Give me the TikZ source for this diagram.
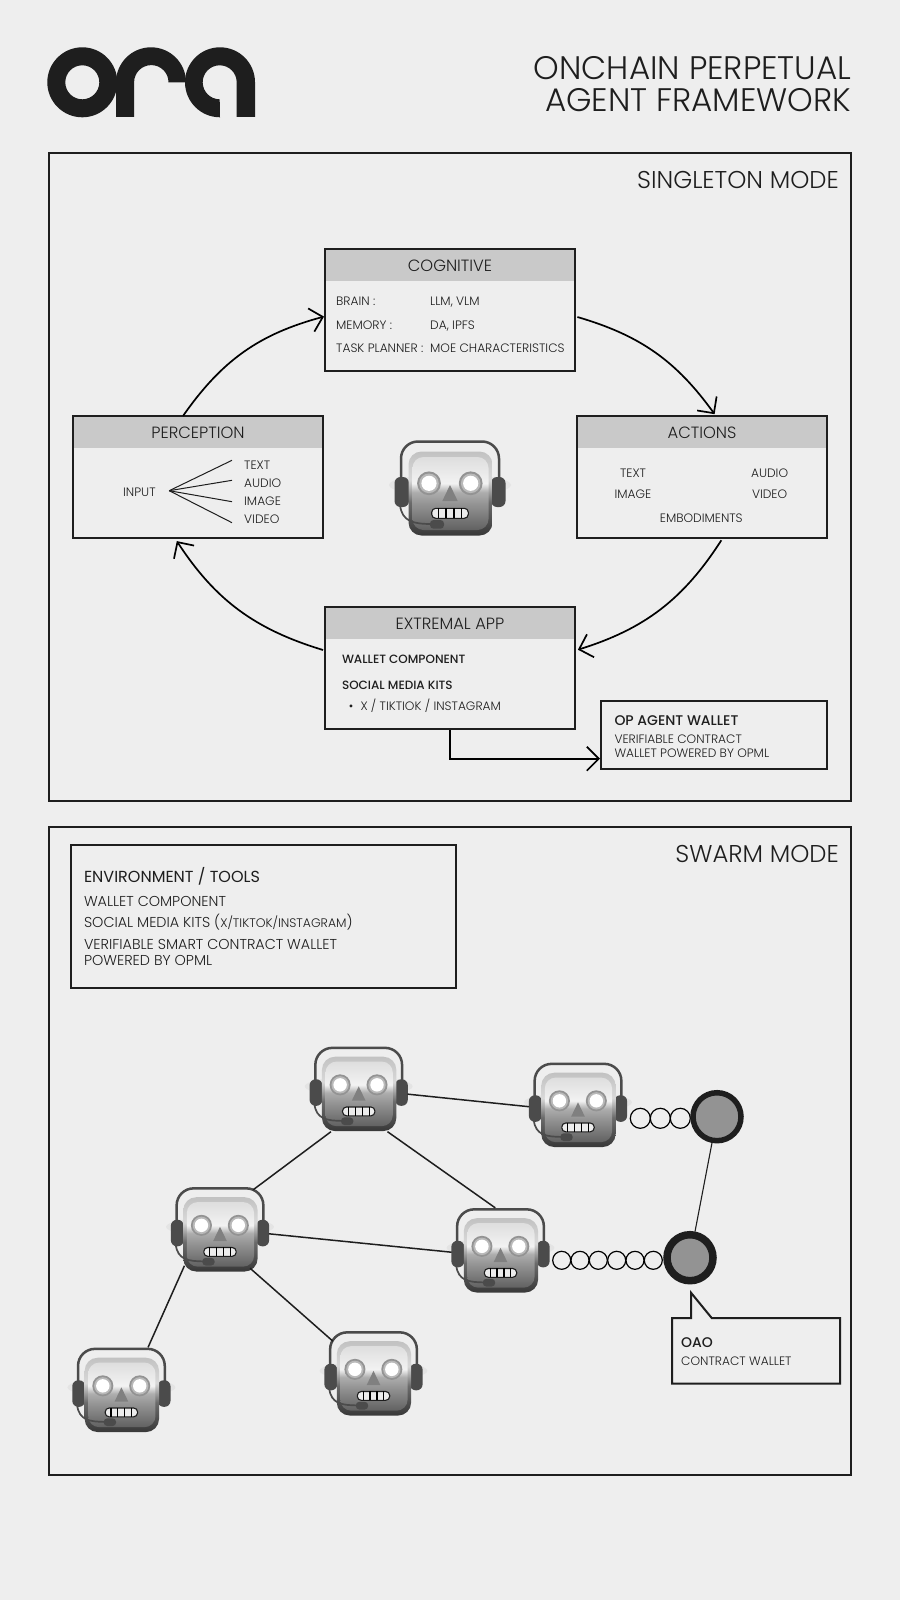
\documentclass[tikz,border=0pt]{standalone}
\usepackage{fontspec}
\setmainfont{Poppins}[UprightFont=* Light,BoldFont=* Medium]
\newfontfamily\popregular{Poppins}
\usetikzlibrary{arrows.meta}
\usetikzlibrary{calc}
\definecolor{paperbg}{HTML}{EEEEEE}
\definecolor{inkdark}{HTML}{1E1E1E}
\definecolor{headgray}{HTML}{C9C9C9}
\definecolor{oaogray}{HTML}{939393}
\definecolor{robotdark}{HTML}{4B4B4B}
\pgfdeclareverticalshading{robotface}{100bp}{rgb(0bp)=(.38,.38,.38); rgb(25bp)=(.38,.38,.38); rgb(43bp)=(.58,.58,.58); rgb(51bp)=(.68,.68,.68); rgb(57bp)=(.95,.95,.95); rgb(75bp)=(.87,.87,.87); rgb(100bp)=(.87,.87,.87)}
\pgfdeclareverticalshading{robotrim}{100bp}{rgb(0bp)=(.22,.22,.22); rgb(25bp)=(.22,.22,.22); rgb(45bp)=(.42,.42,.42); rgb(58bp)=(.85,.85,.85); rgb(75bp)=(.76,.76,.76); rgb(100bp)=(.76,.76,.76)}
\tikzset{
  frame box/.style={draw=inkdark,line width=2pt,inner sep=0pt},
  panel/.style={
    frame box,
    minimum width=250pt,
    minimum height=122pt,
  },
  panel head/.style={
    fill=headgray,
    inner sep=0pt,
    minimum width=248pt,
    minimum height=31pt,
    anchor=north,
    text=inkdark,
    text height=12.5pt,
    text depth=0pt,
    font=\fontsize{16.3}{16}\selectfont,
  },
  txt/.style={
    inner sep=0pt,
    text=inkdark,
    text height=8.5pt,
    text depth=0pt,
    font=\fontsize{12.2}{12}\selectfont,
  },
  txt big/.style={txt,text height=10pt,font=\fontsize{14.35}{14}\selectfont},
  mode title/.style={txt,anchor=east,text height=17pt,font=\fontsize{24.3}{24}\selectfont},
  flow/.style={
    draw=black,
    line width=1.7pt,
    -{Straight Barb[length=12pt,width=24pt,line width=1.7pt]},
  },
  link/.style={draw=inkdark,line width=1.5pt},
  small dot/.style={circle,draw=black,line width=1.2pt,inner sep=0pt,fill=paperbg},
  oao node/.style={circle,draw=inkdark,fill=oaogray,inner sep=0pt},
  robot/.pic={
    \fill[paperbg!96!black] (0,3) ellipse (61 and 11);
    \draw[robotdark,line width=2.5pt,rounded corners=17pt]
      (-49,-10) -- (-49,46.5) -- (49,46.5) -- (49,-10);
    \fill[robotdark,rounded corners=6pt] (-55.5,11) rectangle (-41,-19);
    \fill[robotdark,rounded corners=6pt] (55.5,11) rectangle (41,-19);
    \path[shading=robotrim,rounded corners=13pt] (-41.5,36.5) rectangle (42.5,-47.5);
    \path[shading=robotface,rounded corners=11pt] (-37.5,31) rectangle (38.5,-42);
    \foreach \ex in {-21,20.7}{
      \fill[gray!85] (\ex,4.7) circle (11.9);
      \fill[gray!55] (\ex,4.7) circle (9.8);
      \fill[white] (\ex,4.7) circle (7.6);
    }
    \fill[gray] (0,3) -- (-7.7,-13) -- (7.7,-13) -- cycle;
    \filldraw[fill=gray!15,draw=inkdark,line width=1.1pt,rounded corners=4pt]
      (-18.3,-20.3) rectangle (18.3,-30.3);
    \foreach \tx in {-11.7,-4,4,11.7}{
      \draw[black,line width=1.1pt] (\tx,-20.3) -- (\tx,-30.3);
    }
    \draw[robotdark,line width=1.7pt] (-50,-17) .. controls (-48,-34) and (-36,-36) .. (-18,-36);
    \fill[robotdark,rounded corners=3.5pt] (-20,-32) rectangle (-6,-40.7);
    \node[inner sep=0pt,minimum width=110pt,minimum height=96pt,transform shape] (-head) at (0,0) {};
  },
}
\begin{document}
\begin{tikzpicture}[x=1pt,y=1pt]

  \useasboundingbox[fill=paperbg] (0,0) rectangle (900,-1600);

  % logo
  \fill[inkdark,even odd rule] (82.3,-82.3) circle (35) (82.3,-82.3) circle (17);
  \fill[inkdark] (116,-117) -- (116,-82.3) arc[start angle=180,end angle=0,radius=35]
    -- (168.5,-82.3) arc[start angle=0,end angle=180,radius=17.2] -- (134,-117) -- cycle;
  \fill[inkdark] (220,-117.3) arc[start angle=270,end angle=0,radius=35] -- (255,-117) -- (236.7,-117)
    -- (236.7,-82.3) arc[start angle=0,end angle=270,radius=17] -- cycle;

  \node[inner sep=0pt,anchor=east,align=right,text=inkdark,font=\fontsize{32.6}{32}\selectfont]
    (pagetitle) at (851.5,-84) {ONCHAIN PERPETUAL\\AGENT FRAMEWORK};

  \node[frame box,minimum width=802pt,minimum height=648pt] (singleton) at (450,-477) {};
  \node[frame box,minimum width=802pt,minimum height=648pt] (swarm) at (450,-1151) {};
  \node[mode title] (singletontitle) at (839,-179.5) {SINGLETON MODE};
  \node[mode title] (swarmtitle) at (839,-853.5) {SWARM MODE};

  % singleton mode
  \node[panel] (cognitive) at (450,-310) {};
  \node[panel] (perception) at (198,-477) {};
  \node[panel] (actions) at (702,-477) {};
  \node[panel] (extremal) at (450,-668) {};
  \node[frame box,minimum width=226pt,minimum height=68pt] (opwallet) at (714,-735) {};

  \foreach \x/\y in {cognitive/COGNITIVE,perception/PERCEPTION,actions/ACTIONS,extremal/EXTREMAL APP}{
    \node[panel head] (\x head) at ($(\x.north)+(0,-2)$) {\y};
  }

  \foreach \n/\x/\y/\t in {brain/336/301/{BRAIN :},brainval/430/301/{LLM, VLM},
    memory/336/325/{MEMORY :},memoryval/430/325/{DA, IPFS},
    planner/336/348/{TASK PLANNER :},plannerval/430/348/{MOE CHARACTERISTICS}}{
    \node[txt,anchor=west] (\n) at (\x,-\y) {\t};
  }

  \node[txt] (inputlab) at (139.4,-492) {INPUT};
  \coordinate (fan) at (169.2,-490.7);
  \foreach \n/\t/\ly/\ey in {intext/TEXT/465/460.3,inaudio/AUDIO/483/480.3,inimage/IMAGE/501/501.7,invideo/VIDEO/519/522.7}{
    \node[txt,anchor=west] (\n) at (244,-\ly) {\t};
    \coordinate (\n end) at (232,-\ey);
    \draw[draw=inkdark,line width=1pt] (fan) -- (\n end);
  }

  \foreach \n/\x/\y/\t in {outtext/633/473/TEXT,outaudio/769.6/473/AUDIO,outimage/633/494/IMAGE,
    outvideo/769.6/494/VIDEO,outembod/701.3/518/EMBODIMENTS}{
    \node[txt] (\n) at (\x,-\y) {\t};
  }

  \node[txt,anchor=west,font=\fontsize{12}{12}\selectfont] (walletcomp) at (341.8,-659) {\bfseries WALLET COMPONENT};
  \node[txt,anchor=west,font=\fontsize{12}{12}\selectfont] (socialkits) at (341.8,-685) {\bfseries SOCIAL MEDIA KITS};
  \node[txt] (kitbullet) at (351,-706) {•};
  \node[txt,anchor=west] (kitlist) at (360.3,-706) {X / TIKTIOK / INSTAGRAM};

  \node[txt big,anchor=west,font=\fontsize{14}{14}\selectfont] (opname) at (614.3,-720) {\bfseries OP AGENT WALLET};
  \node[txt,anchor=west] (opline1) at (614.3,-739) {VERIFIABLE CONTRACT};
  \node[txt,anchor=west] (opline2) at (614.3,-753) {WALLET POWERED BY OPML};

  \pic at (450,-488) {robot};

  \draw[flow,shorten <=-1pt] (perception.103.9) to[bend left=20] (cognitive.183);
  \draw[flow,shorten <=1.5pt,shorten >=1pt] (cognitive.-3) to[bend left=19] (actions.78.8);
  \draw[flow,shorten <=1.5pt,shorten >=2pt] (actions.-72) to[bend left=20] (extremal.8.6);
  \draw[flow,shorten <=1pt,shorten >=2.5pt] (extremal.172) to[bend left=20] (perception.-110);
  \draw[flow] (extremal.south) |- (opwallet.west |- 0,-758.7);

  % swarm mode
  \node[frame box,minimum width=385.3pt,minimum height=143pt] (envbox) at (263.7,-916.5) {};
  \node[txt,anchor=west,text height=11.2pt,font=\fontsize{16}{16}\popregular\selectfont] (envtitle) at (83.8,-876.7) {ENVIRONMENT / TOOLS};
  \node[txt big,anchor=west] (envwallet) at (83.8,-901) {WALLET COMPONENT};
  \node[txt big,anchor=west] (envsocial) at (83.8,-922.3) {SOCIAL MEDIA KITS ({\fontsize{12.4}{12}\selectfont X/TIKTOK/INSTAGRAM})};
  \node[txt big,anchor=west] (envverify) at (83.8,-944) {VERIFIABLE SMART CONTRACT WALLET};
  \node[txt big,anchor=west] (envopml) at (83.8,-960) {POWERED BY OPML};

  \foreach \n/\x/\y in {ra/358.7/1089,rb/578/1105,rc/220/1229.5,rd/500.5/1250.5,re/121.4/1390,rf/373.5/1373.5}{
    \pic[scale=.885] (\n) at (\x,-\y) {robot};
  }
  \foreach \x/\a/\y/\b in {ra/-6/rb/182.5,ra/-56.8/rd/97.8,rc/-5.5/rd/182.5}{
    \draw[link] (\x-head.\a) -- (\y-head.\b);
  }
  \draw[link,shorten >=-5pt] (ra-head.237.8) -- (rc-head.49);
  \draw[link,shorten <=-7pt] (rc-head.228.5) -- (re-head.58.3);
  \draw[link,shorten <=-6pt,shorten >=-11pt] (rc-head.-51.2) -- (rf-head.141.7);

  \foreach \i/\x in {1/640.3,2/660.3,3/680.3}{
    \node[small dot,minimum size=20pt] (dota\i) at (\x,-1118.3) {};
  }
  \foreach \i/\x in {1/561.7,2/580,3/598.3,4/616.7,5/635,6/653.3}{
    \node[small dot,minimum size=18pt] (dotb\i) at (\x,-1260.3) {};
  }
  \node[oao node,line width=5.5pt,minimum size=48pt] (oaotop) at (717,-1116.7) {};
  \node[oao node,line width=7.5pt,minimum size=46pt] (oaolow) at (690,-1257.7) {};
  \draw[draw=inkdark,line width=1.1pt] (oaotop) -- (oaolow);

  \coordinate (calltip) at (691,-1292.7);
  \draw[draw=inkdark,line width=2pt] (691,-1318) -- (calltip) -- (711.7,-1318) -- (840,-1318)
    -- (840,-1383.7) -- (672,-1383.7) -- (672,-1318) -- cycle;
  \node[txt big,anchor=west,font=\fontsize{14}{14}\selectfont] (oaoname) at (681,-1342) {\bfseries OAO};
  \node[txt,anchor=west] (oaotext) at (681,-1361) {CONTRACT WALLET};

\end{tikzpicture}
\end{document}
